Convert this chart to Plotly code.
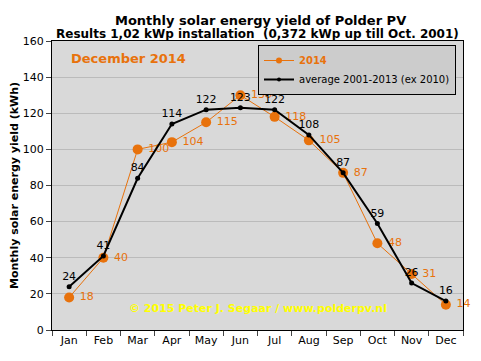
import plotly.graph_objects as go

months = ["Jan", "Feb", "Mar", "Apr", "May", "Jun", "Jul", "Aug", "Sep", "Oct", "Nov", "Dec"]
yield_2014 = [18, 40, 100, 104, 115, 130, 118, 105, 87, 48, 31, 14]
yield_avg = [24, 41, 84, 114, 122, 123, 122, 108, 87, 59, 26, 16]

ORANGE = "#E8720C"
FONT = "DejaVu Sans"

fig = go.Figure()
fig.add_trace(go.Scatter(
    x=months, y=yield_2014, mode="lines+markers+text",
    showlegend=False,
    line=dict(color=ORANGE, width=1),
    marker=dict(color=ORANGE, size=10),
    text=[" " + str(v) for v in yield_2014], textposition="middle right",
    textfont=dict(color=ORANGE, size=11, family=FONT),
    cliponaxis=False,
))
fig.add_trace(go.Scatter(
    x=months, y=yield_avg, mode="lines+markers+text",
    showlegend=False,
    line=dict(color="black", width=2),
    marker=dict(color="black", size=5),
    text=[str(v) for v in yield_avg], textposition="top center",
    textfont=dict(color="black", size=11, family=FONT),
    cliponaxis=False,
))
# legend entries (small symbols as in the reference legend)
fig.add_trace(go.Scatter(x=[None], y=[None], mode="lines+markers",
                         name="<b><span style='color:%s'>2014</span></b>" % ORANGE,
                         line=dict(color=ORANGE, width=1), marker=dict(color=ORANGE, size=6)))
fig.add_trace(go.Scatter(x=[None], y=[None], mode="lines+markers",
                         name="average 2001-2013 (ex 2010)",
                         line=dict(color="black", width=2), marker=dict(color="black", size=4)))

# the page has an 8px body margin: figure is placed at (8, 8)
W, H = 481 - 8, 361 - 8
L, T, R, B = 52 - 8, 41 - 8, W - (463 - 8), H - (330 - 8)
h = H - T - B

fig.update_layout(
    width=W, height=H,
    margin=dict(l=L, r=R, t=T, b=B, autoexpand=False),
    paper_bgcolor="white", plot_bgcolor="#D9D9D9",
    font=dict(family=FONT, size=11, color="black"),
    showlegend=True,
    legend=dict(x=(258 - 52) / 411, y=1 - (45 - 41) / h, xanchor="left", yanchor="top",
                bgcolor="#CCCCCC", bordercolor="black", borderwidth=1,
                font=dict(size=10, family=FONT), tracegroupgap=0, itemwidth=30),
    xaxis=dict(range=[-0.5, len(months) - 0.5], showgrid=False, ticks="outside",
               tickson="boundaries", ticklen=5,
               showline=True, linecolor="black", linewidth=1, mirror=True,
               tickfont=dict(size=11), automargin=False),
    yaxis=dict(range=[0, 160], dtick=20, showgrid=True, gridcolor="#BBBBBB", gridwidth=1,
               ticks="outside", ticklen=5, showline=True, linecolor="black", linewidth=1,
               mirror=True, zeroline=False, tickfont=dict(size=11), automargin=False,
               title=dict(text="<b>Monthly solar energy yield (kWh)</b>", font=dict(size=11), standoff=4)),
    annotations=[
        dict(text="<b>Monthly solar energy yield of Polder PV</b>", x=(260 - 52) / 411,
             y=1 + (41 - 11) / h, xref="paper", yref="paper", showarrow=False,
             font=dict(size=13)),
        dict(text="<b>Results 1,02 kWp installation  (0,372 kWp up till Oct. 2001)</b>", x=0.5,
             y=1 + (41 - 25) / h, xref="paper", yref="paper", showarrow=False,
             font=dict(size=12)),
        dict(text="<b>December 2014</b>", x=(69 - 52) / 411, y=(330 - 59) / h, xref="paper",
             yref="paper", xanchor="left", yanchor="middle", showarrow=False,
             font=dict(size=13, color=ORANGE)),
        dict(text="<b>© 2015 Peter J. Segaar / www.polderpv.nl</b>", x=(258 - 52) / 411,
             y=(330 - 317) / h, xref="paper", yref="paper", showarrow=False,
             font=dict(size=11, color="#FFFF00")),
    ],
)

fig.write_html("out.html")
